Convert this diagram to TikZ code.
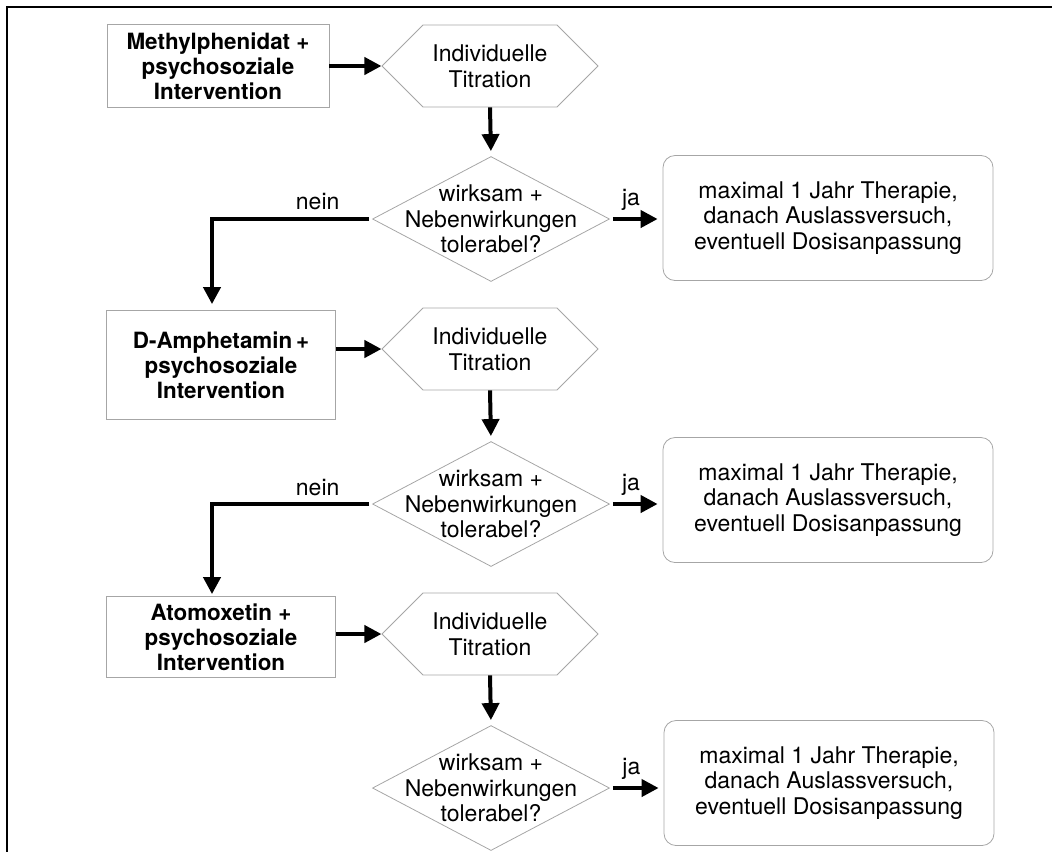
\documentclass[tikz,border=0pt]{standalone}
\usepackage{fontspec}
\setmainfont{TeX Gyre Heros}
\usetikzlibrary{shapes.geometric, shapes.symbols, arrows.meta}

\begin{document}
\begin{tikzpicture}[x=0.5pt, y=-0.5pt,
  every node/.style={font=\fontsize{11.5}{12.8}\selectfont, align=center},
  drug/.style={draw=gray!70, thin, rectangle, inner sep=0pt, minimum width=114.5pt, font=\bfseries\fontsize{11.2}{12.6}\selectfont},
  titr/.style={draw=gray!70, thin, signal, signal to=east and west, signal pointer angle=90, inner sep=0pt, minimum width=108pt, minimum height=41pt},
  check/.style={draw=gray!70, thin, diamond, aspect=1.9, inner sep=-8pt, minimum width=118.5pt, minimum height=62.5pt},
  result/.style={draw=gray!70, thin, rectangle, rounded corners=6pt, inner sep=0pt, minimum width=165pt, minimum height=62.5pt},
  arr/.style={line width=2pt, -{Triangle[length=8.5pt, width=8.5pt]}}]
  \useasboundingbox (0,0) rectangle (1052,852);
  % frame
  \draw[line width=1pt] (1052,7) -- (7,7) -- (7,852);

  % first line: Methylphenidat
  \node[drug, minimum width=111pt, minimum height=41.5pt] (b1) at (218,66) {Methylphenidat +\\psychosoziale\\Intervention};
  \node[titr] (h1) at (490,66) {Individuelle\\Titration};
  \node[check] (d1) at (491,219) {wirksam +\\Nebenwirkungen\\tolerabel?};
  \node[result] (r1) at (828,218) {maximal 1 Jahr Therapie,\\danach Auslassversuch,\\eventuell Dosisanpassung};

  % second line: D-Amphetamin
  \node[drug, minimum height=54.5pt] (b2) at (221,365) {D-Amphetamin\,+\\psychosoziale\\Intervention};
  \node[titr] (h2) at (490,349) {Individuelle\\Titration};
  \node[check] (d2) at (491,504) {wirksam +\\Nebenwirkungen\\tolerabel?};
  \node[result] (r2) at (828,500) {maximal 1 Jahr Therapie,\\danach Auslassversuch,\\eventuell Dosisanpassung};

  % third line: Atomoxetin
  \node[drug, minimum height=40.5pt] (b3) at (221,637) {Atomoxetin +\\psychosoziale\\Intervention};
  \node[titr] (h3) at (490,634) {Individuelle\\Titration};
  \node[check] (d3) at (491,788) {wirksam +\\Nebenwirkungen\\tolerabel?};
  \node[result] (r3) at (829,783) {maximal 1 Jahr Therapie,\\danach Auslassversuch,\\eventuell Dosisanpassung};

  % arrows
  \foreach \i in {1,2,3}
  {\draw[arr] (b\i.east |- h\i.west) -- (h\i.west);
   \draw[arr, shorten >=2.5pt] (h\i.south) -- (d\i.north);
   \draw[arr, shorten <=1.5pt, shorten >=2.5pt] (d\i.east) -- (r\i.west |- d\i.east) node[above, pos=0.4] {ja};}
  \draw[arr, shorten <=1.5pt, shorten >=3pt] (d1.west) -| ([xshift=-4.5pt]b2.north) node[above, pos=0.17] {nein};
  \draw[arr, shorten <=1.5pt, shorten >=1pt] (d2.west) -| ([xshift=-4.5pt]b3.north) node[above, pos=0.17] {nein};
\end{tikzpicture}
\end{document}
